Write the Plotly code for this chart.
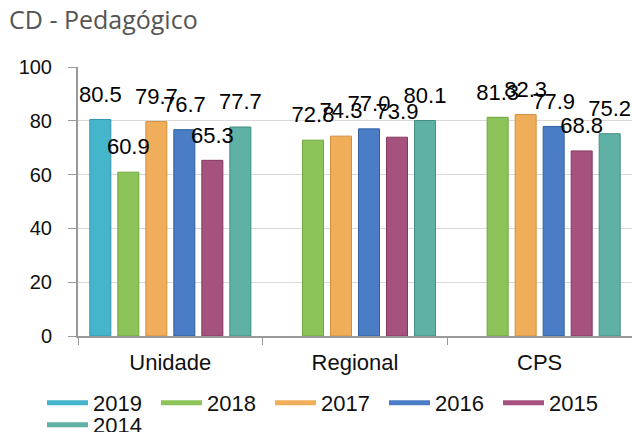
import plotly.graph_objects as go

categories = ["Unidade", "Regional", "CPS"]
years = ["2019", "2018", "2017", "2016", "2015", "2014"]
values_2019 = [80.5, None, None]
values_2018 = [60.9, 72.8, 81.3]
values_2017 = [79.7, 74.3, 82.3]
values_2016 = [76.7, 77.0, 77.9]
values_2015 = [65.3, 73.9, 68.8]
values_2014 = [77.7, 80.1, 75.2]
series = [values_2019, values_2018, values_2017, values_2016, values_2015, values_2014]
colors = ["#45b5cc", "#8cc45a", "#f0ad5a", "#4a7dc5", "#a5527e", "#5fb0a5"]
edges = ["#2f97ad", "#6fa63f", "#d08f3e", "#30609f", "#85385f", "#438f84"]
y_ticks = [0, 20, 40, 60, 80, 100]

fig = go.Figure()
for name, vals, c, e in zip(years, series, colors, edges):
    fig.add_trace(go.Bar(x=categories, y=vals, name=name, offsetgroup=name,
                         marker=dict(color=c, line=dict(color=e, width=1)),
                         showlegend=False, hoverinfo="skip"))
for name, vals in zip(years, series):
    fig.add_trace(go.Scatter(x=categories, y=vals, mode="markers+text", showlegend=False,
                             offsetgroup=name,
                             text=[None if v is None else f"{v:.1f}" for v in vals],
                             textposition="top center",
                             textfont=dict(family="Liberation Sans, Arial", size=22, color="#000"),
                             marker=dict(size=18, color="rgba(0,0,0,0)"), hoverinfo="skip"))
for i, (name, c) in enumerate(zip(years, colors)):
    fig.add_trace(go.Scatter(x=[None], y=[None], mode="lines", name=name, offsetgroup=name,
                             legend="legend2" if i == 5 else "legend",
                             line=dict(color=c, width=5)))

legend_common = dict(orientation="h", xref="paper", yref="paper", xanchor="left",
                     yanchor="middle", font=dict(size=22, color="#111"), itemwidth=41,
                     entrywidth=58, entrywidthmode="pixels", bgcolor="rgba(0,0,0,0)")
fig.update_layout(
    width=632, height=432,
    margin=dict(l=78, r=0, t=67, b=96, autoexpand=False),
    paper_bgcolor="white", plot_bgcolor="white",
    barmode="group", bargap=0.09, bargroupgap=0.25,
    scattermode="group", scattergap=0.09,
    title=dict(text="CD - Pedagógico", x=9 / 632, xref="container", xanchor="left",
               y=1 - 20 / 432, yref="container", yanchor="middle",
               font=dict(family="Open Sans", size=25, color="#555555")),
    font=dict(family="Liberation Sans, Arial", color="#111"),
    legend=dict(x=(42 - 78) / 554, y=(336 - 403) / 269, **legend_common),
    legend2=dict(x=(42 - 78) / 554, y=(336 - 425) / 269, **legend_common),
    showlegend=True,
)
fig.update_yaxes(range=[0, 100], tickvals=y_ticks, showgrid=True, gridcolor="#d9d9d9", gridwidth=1,
                 showline=True, linecolor="#999", linewidth=2, ticks="outside", ticklen=8, tickcolor="#999",
                 ticklabelstandoff=12, tickfont=dict(size=20, color="#111"), zeroline=False)
fig.update_xaxes(showline=True, linecolor="#999", linewidth=2, ticks="outside", tickson="boundaries",
                 ticklen=7, tickcolor="#999", ticklabelstandoff=6, tickfont=dict(size=22, color="#111"))

fig.write_html("out.html", config={"displayModeBar": False},
               post_script="document.body.style.margin='0';")
